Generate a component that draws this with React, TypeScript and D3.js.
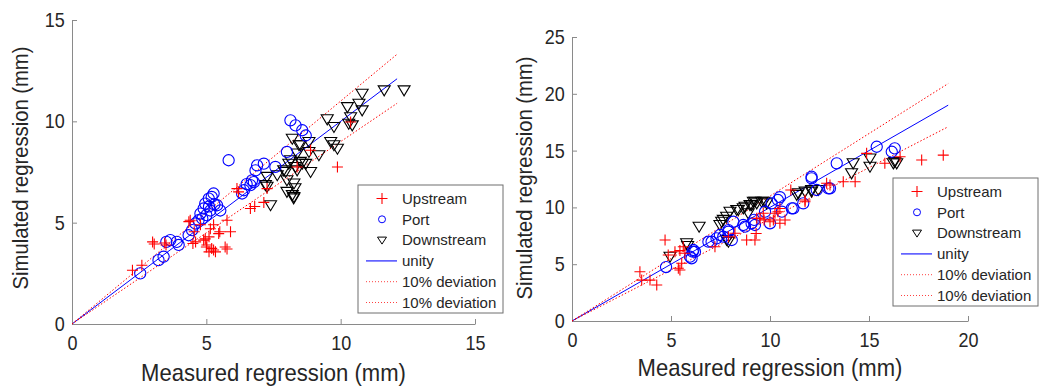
import React, { useEffect, useRef } from 'react';
import * as d3 from 'd3';

// measured vs simulated regression, [measured, simulated] in mm
const leftUpstream = [
  [2.25, 2.65], [2.6, 2.9], [3.0, 4.05], [3.06, 3.95], [3.5, 3.9], [3.45, 4.0], [4.35, 5.05], [4.4, 5.12],
  [4.5, 3.97], [4.55, 4.55], [4.6, 4.05], [4.78, 4.9], [4.9, 4.14], [4.96, 4.2], [5.0, 3.8], [5.02, 3.9],
  [5.1, 4.3], [5.1, 3.56], [5.15, 4.7], [5.2, 3.73], [5.27, 3.65], [5.27, 4.9], [5.34, 3.56], [5.46, 4.46],
  [5.5, 4.55], [5.7, 3.8], [5.77, 3.7], [5.77, 5.12], [5.9, 4.55], [6.2, 6.52], [6.14, 6.68], [6.64, 5.7],
  [6.8, 5.8], [7.14, 6.0], [7.26, 6.68], [8.38, 7.75], [8.88, 8.57], [9.88, 7.75], [10.37, 9.97],
];
const leftPort = [
  [2.54, 2.5], [3.22, 3.15], [3.41, 3.32], [3.51, 4.05], [3.66, 4.14], [3.9, 4.05], [3.97, 3.9], [4.34, 4.38],
  [4.47, 4.63], [4.59, 4.96], [4.71, 5.12], [4.78, 5.45], [4.9, 5.7], [4.96, 5.94], [5.09, 6.19], [5.2, 6.27],
  [5.27, 6.44], [5.3, 5.9], [5.15, 5.6], [5.0, 5.37], [5.4, 5.86], [5.52, 5.6], [4.85, 5.2], [5.1, 5.8],
  [5.83, 8.08], [6.33, 6.44], [6.4, 6.6], [6.5, 6.9], [6.64, 6.85], [6.77, 7.0], [6.7, 7.09], [6.83, 7.58],
  [6.89, 7.83], [7.14, 7.91], [7.57, 7.75], [8.0, 8.49], [8.13, 10.05], [8.32, 9.8], [8.57, 9.56], [8.7, 9.3],
];
const leftDownstream = [
  [12.36, 11.53], [11.62, 11.53], [10.8, 11.36], [10.68, 10.87], [10.25, 10.7], [10.8, 10.54], [9.5, 10.1],
  [10.37, 10.2], [10.3, 9.88], [10.43, 9.8], [9.75, 9.72], [8.82, 8.98], [8.2, 9.14], [9.63, 8.98], [9.75, 8.82],
  [9.88, 8.65], [9.19, 8.33], [8.5, 8.82], [8.82, 8.49], [8.38, 8.41], [8.07, 7.91], [8.57, 7.91], [8.7, 7.9],
  [8.32, 7.75], [7.88, 7.58], [7.64, 7.34], [7.26, 7.26], [7.2, 6.85], [8.0, 7.09], [8.26, 6.93], [8.3, 6.7],
  [8.2, 6.36], [8.25, 6.2], [8.0, 6.52], [8.88, 7.5], [7.26, 6.77], [7.39, 5.86], [8.45, 8.82], [8.13, 8.08],
  [8.5, 8.0], [7.95, 7.5], [8.38, 7.58], [8.26, 6.27],
];

const rightUpstream = [
  [3.43, 4.34], [3.52, 3.6], [3.94, 3.6], [4.28, 3.17], [4.7, 7.13], [5.45, 4.49], [5.54, 5.08], [5.7, 5.96],
  [4.86, 5.81], [5.2, 6.1], [5.45, 6.2], [5.62, 6.54], [5.37, 4.64], [7.22, 6.54], [7.9, 7.42], [8.23, 7.72],
  [9.24, 7.13], [9.3, 7.7], [8.82, 7.13], [9.5, 9.04], [9.7, 8.9], [10.0, 8.74], [10.25, 9.48], [10.4, 9.62],
  [10.76, 8.89], [10.17, 8.89], [9.66, 9.48], [9.33, 9.04], [10.5, 8.6], [10.5, 9.9], [11.05, 11.53],
  [11.77, 10.5], [11.77, 10.65], [13.03, 11.97], [12.86, 12.12], [13.7, 12.26], [14.3, 12.26], [14.88, 14.76],
  [15.8, 13.88], [16.57, 14.46], [17.66, 14.17], [18.75, 14.6],
];
const rightPort = [
  [4.75, 4.75], [5.96, 5.66], [6.1, 6.1], [6.13, 6.25], [6.04, 5.52], [6.21, 6.1], [6.89, 6.98], [7.05, 6.98],
  [7.3, 7.27], [7.47, 7.57], [7.64, 7.42], [7.9, 7.86], [7.9, 8.0], [8.07, 7.13], [8.15, 8.74], [8.65, 8.45],
  [8.74, 8.3], [9.07, 8.6], [9.2, 8.9], [9.24, 8.45], [9.75, 9.62], [10.0, 8.6], [10.08, 10.36], [10.4, 10.65],
  [10.5, 10.9], [10.6, 9.62], [11.1, 9.92], [11.18, 9.92], [11.68, 10.36], [12.1, 12.56], [12.1, 12.7],
  [12.36, 11.53], [12.95, 11.68], [13.03, 11.68], [13.37, 13.88], [15.39, 15.34], [16.15, 14.9], [16.3, 15.2],
];
const rightDownstream = [
  [4.95, 5.66], [5.79, 6.84], [5.84, 6.6], [6.42, 8.3], [7.47, 8.45], [7.56, 8.74], [7.64, 8.9], [7.81, 9.18],
  [7.98, 9.62], [7.81, 7.13], [7.9, 6.98], [8.32, 9.77], [8.4, 9.77], [8.65, 9.92], [8.74, 10.06], [8.9, 9.48],
  [8.99, 10.2], [9.07, 10.2], [9.16, 10.5], [9.24, 10.5], [9.33, 10.36], [9.58, 10.5], [9.7, 10.5], [9.83, 10.36],
  [11.35, 11.1], [11.43, 11.24], [11.77, 11.39], [12.1, 11.53], [12.1, 11.39], [12.44, 11.53], [14.12, 13.0],
  [14.2, 13.88], [15.05, 14.3], [15.05, 13.58], [16.23, 13.88], [16.3, 14.0], [16.4, 13.88],
];

const leftTicks = [0, 5, 10, 15];
const rightXTicks = [0, 5, 10, 15, 20];
const rightYTicks = [0, 5, 10, 15, 20, 25];
const legendLabels = ['Upstream', 'Port', 'Downstream', 'unity', '10% deviation', '10% deviation'];

const FONT = 'Liberation Sans, Arial, sans-serif';
const AXIS_GRAY = '#8a8a8a';
const TEXT = '#262626';

function marker(g, type, x, y) {
  if (type === 'plus') {
    g.append('path').attr('d', `M${x - 5.5},${y}H${x + 5.5}M${x},${y - 5.5}V${y + 5.5}`)
      .attr('stroke', '#ff0000').attr('stroke-width', 1.1).attr('fill', 'none');
  } else if (type === 'circle') {
    g.append('circle').attr('cx', x).attr('cy', y).attr('r', 5.6)
      .attr('stroke', '#0000ff').attr('stroke-width', 1.1).attr('fill', 'none');
  } else {
    g.append('path').attr('d', `M${x - 6},${y - 4.5}L${x + 6},${y - 4.5}L${x},${y + 5.5}Z`)
      .attr('stroke', '#000').attr('stroke-width', 1.1).attr('fill', 'none');
  }
}

function drawPanel(svg, p) {
  const x = d3.scaleLinear().domain(p.xDomain).range(p.xRange);
  const y = d3.scaleLinear().domain(p.yDomain).range(p.yRange);
  const g = svg.append('g');

  // axes, ticks inside (matlab style)
  const ax = g.append('g').attr('transform', `translate(0,${p.yRange[0]})`)
    .call(d3.axisBottom(x).tickValues(p.xTicks).tickSizeInner(-5).tickSizeOuter(0).tickPadding(12));
  const ay = g.append('g').attr('transform', `translate(${p.xRange[0]},0)`)
    .call(d3.axisLeft(y).tickValues(p.yTicks).tickSizeInner(-5).tickSizeOuter(0).tickPadding(8));
  [ax, ay].forEach((a) => {
    a.select('.domain').attr('stroke', AXIS_GRAY);
    a.selectAll('line').attr('stroke', AXIS_GRAY);
    a.selectAll('text').attr('fill', TEXT).attr('font-size', 20).attr('font-family', FONT)
      .attr('transform', 'scale(0.9,1)');
  });

  // reference lines
  const end = p.lineEnd;
  const refs = [
    { k: 1, color: '#0000ff', dash: null },
    { k: 1.1, color: '#ff0000', dash: '1.5,2' },
    { k: 0.9, color: '#ff0000', dash: '1.5,2' },
  ];
  refs.forEach((r) => {
    g.append('line').attr('x1', x(0)).attr('y1', y(0)).attr('x2', x(end)).attr('y2', y(end * r.k))
      .attr('stroke', r.color).attr('stroke-width', 1).attr('stroke-dasharray', r.dash);
  });

  const pts = g.append('g');
  p.downstream.forEach((d) => marker(pts, 'tri', x(d[0]), y(d[1])));
  p.port.forEach((d) => marker(pts, 'circle', x(d[0]), y(d[1])));
  p.upstream.forEach((d) => marker(pts, 'plus', x(d[0]), y(d[1])));

  // axis titles
  const cx = (p.xRange[0] + p.xRange[1]) / 2;
  g.append('text').attr('transform', `translate(${cx},${p.xTitleY}) scale(0.92,1)`)
    .attr('text-anchor', 'middle').attr('font-size', 24).attr('font-family', FONT).attr('fill', TEXT)
    .text('Measured regression (mm)');
  g.append('text').attr('transform', `translate(${p.yTitleX},${p.yTitleY}) rotate(-90) scale(0.9,1)`)
    .attr('text-anchor', 'middle').attr('font-size', 22.5).attr('font-family', FONT).attr('fill', TEXT)
    .text('Simulated regression (mm)');

  // legend
  const lg = g.append('g').attr('transform', `translate(${p.legend[0]},${p.legend[1]})`);
  lg.append('rect').attr('width', 145).attr('height', 128).attr('fill', '#fff').attr('stroke', '#6f6f6f');
  legendLabels.forEach((label, i) => {
    const ry = 13.5 + i * 20.8;
    if (i === 0) marker(lg, 'plus', 24, ry);
    if (i === 1) lg.append('circle').attr('cx', 24).attr('cy', ry).attr('r', 3.5).attr('stroke', '#0000ff').attr('fill', 'none');
    if (i === 2) lg.append('path').attr('d', `M19.5,${ry - 3}L28.5,${ry - 3}L24,${ry + 4}Z`).attr('stroke', '#000').attr('fill', 'none');
    if (i === 3) {
      lg.append('path').attr('d', `M8,${ry}H39`).attr('stroke', '#3030ff').attr('stroke-width', 1.3).attr('fill', 'none');
    }
    if (i > 3) {
      lg.append('path').attr('d', `M8,${ry}H39`).attr('stroke', '#ff4040').attr('stroke-width', 1)
        .attr('stroke-dasharray', '1,2').attr('fill', 'none');
    }
    lg.append('text').attr('x', 44).attr('y', ry).attr('dy', '0.35em').attr('font-size', 15)
      .attr('font-family', FONT).attr('fill', TEXT).text(label);
  });
}

const App = () => {
  const svgRef = useRef(null);

  useEffect(() => {
    const svg = d3.select(svgRef.current);
    svg.selectAll('*').remove();
    drawPanel(svg, {
      xDomain: [0, 15], yDomain: [0, 15], xRange: [72, 475], yRange: [324, 20],
      xTicks: leftTicks, yTicks: leftTicks, lineEnd: 12.1,
      upstream: leftUpstream, port: leftPort, downstream: leftDownstream,
      xTitleY: 381, yTitleX: 28, yTitleY: 168, legend: [358, 185],
    });
    drawPanel(svg, {
      xDomain: [0, 20], yDomain: [0, 25], xRange: [572, 968], yRange: [321, 37],
      xTicks: rightXTicks, yTicks: rightYTicks, lineEnd: 19,
      upstream: rightUpstream, port: rightPort, downstream: rightDownstream,
      xTitleY: 376, yTitleX: 532, yTitleY: 178, legend: [893, 178],
    });
  }, []);

  return (
    <svg ref={svgRef} width={1048} height={389}
      style={{ position: 'absolute', left: 0, top: 0, background: '#fff' }} />
  );
};

export default App;
